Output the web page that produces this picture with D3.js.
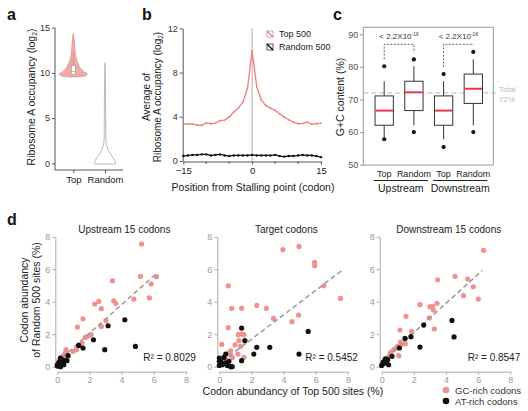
<!DOCTYPE html>
<html><head><meta charset="utf-8">
<script src="https://cdn.jsdelivr.net/npm/d3@7"></script>
<style>body{margin:0;background:#fff;} text{font-family:"Liberation Sans",Arial,sans-serif;}</style>
</head><body><svg id="chart" width="528" height="411"></svg>
<script>
// ---------- Panel a data ----------
const violinCats = ["Top", "Random"];
const violinTicks = [0, 5, 10, 15];
// [log2 occupancy, relative density]
const violinTop = [[9.55,0.05],[9.66,0.83],[9.88,1.0],[10.13,0.76],[10.5,0.52],[11.06,0.33],[11.6,0.21],[12.17,0.14],[12.9,0.1],[13.64,0.07],[14.38,0]];
const violinRandom = [[-0.08,0.74],[0,0.76],[0.29,0.71],[0.73,0.52],[1.28,0.29],[1.84,0.14],[2.58,0.07],[4.8,0.05],[8.47,0.035],[11.13,0]];
const topBox = [9.6, 9.85, 10.15, 10.8, 12.3]; // low whisker, q1, median, q3, high whisker

// ---------- Panel b data ----------
const positions = [-15,-14,-13,-12,-11,-10,-9,-8,-7,-6,-5,-4,-3,-2,-1,0,1,2,3,4,5,6,7,8,9,10,11,12,13,14,15];
const top500 = [3.37,3.34,3.34,3.25,3.22,3.43,3.37,3.43,3.64,3.7,3.97,4.42,4.78,5.32,6.6,9.97,6.7,5.53,5.0,4.78,4.57,4.27,3.97,3.73,3.52,3.37,3.4,3.52,3.34,3.37,3.43];
const random500 = [0.45,0.5,0.55,0.55,0.6,0.6,0.5,0.55,0.6,0.5,0.45,0.5,0.5,0.5,0.5,0.55,0.5,0.5,0.5,0.5,0.55,0.45,0.4,0.45,0.45,0.5,0.55,0.5,0.5,0.45,0.35];
const bYTicks = [0, 4, 8, 12];
const bXLabels = [-15, 0, 15];
const bXMinor = [-10, -5, 5, 10];
const bSeries = ["Top 500", "Random 500"];

// ---------- Panel c data ----------
const boxKeys = ["UT", "UR", "DT", "DR"];
const boxLabels = ["Top", "Random", "Top", "Random"];
const regions = ["Upstream", "Downstream"];
const whiskerLow = [57.8, 62.1, 57.8, 62.1];
const boxQ1 = [62.1, 66.6, 62.1, 68.8];
const boxMedian = [66.6, 72.2, 66.6, 73.3];
const boxQ3 = [71.1, 75.6, 71.1, 77.8];
const whiskerHigh = [75.6, 80.2, 75.6, 82.3];
const outliers = [[80.2, 57.8], [82.3, 60.0], [77.8, 55.4], [84.6, 60.0]];
const totalGC = 72;
const cYTicks = [50, 60, 70, 80, 90];
const pLabel = "< 2.2X10";

// ---------- Panel d data ----------
const upGC = [[5.24,7.55],[5.17,5.56],[6.17,5.54],[5.84,5.09],[3.43,5.29],[3.51,4.06],[3.64,3.9],[4.76,4.16],[5.73,4.23],[2.58,4.02],[2.33,3.86],[2.74,3.57],[1.6,2.95],[1.25,2.44],[3.03,2.83],[2.74,2.48],[2.1,1.97],[1.91,1.87],[1.75,1.8],[1.54,1.46],[1.37,1.35],[1.19,1.05],[0.98,0.94],[0.54,1.05],[0.5,0.84],[0.4,0.68],[0.25,0.57],[0.19,0.43],[0.09,0.33],[0.6,0.78]];
const upAT = [[4.2,2.89],[3.16,2.52],[4.86,1.25],[2.95,1.05],[2.25,1.66],[1.33,1.31],[1.6,1.15],[0.67,0.68],[0.46,0.37],[0.29,0.43],[0.19,0.53],[0.09,0.23],[0.0,0.12],[0.25,0.23],[0.4,0.12],[0.13,0.08],[0.6,0.37],[0.0,0.04],[0.15,0.3],[0.3,0.15],[0.2,0.0],[0.35,0.35]];
const tgGC = [[3.96,7.2],[4.96,7.4],[5.93,6.42],[5.93,6.22],[6.5,4.98],[7.54,4.2],[0.56,4.98],[0.77,3.59],[1.39,3.59],[2.33,3.77],[2.93,3.59],[3.37,2.97],[4.93,3.18],[4.52,2.77],[0.56,2.4],[0.15,1.37],[1.18,1.97],[1.37,2.01],[1.53,1.97],[1.22,1.6],[0.98,1.35],[0.7,0.98],[1.16,0.78],[1.53,0.57],[0.81,0.57],[0.6,0.84],[0.4,0.43],[1.32,1.25],[0.19,0.33],[0.29,0.37]];
const tgAT = [[1.39,2.38],[1.59,1.6],[2.33,1.19],[3.14,1.19],[5.53,2.17],[4.96,0.78],[2.15,0.78],[1.39,0.37],[0.4,0.78],[0.29,0.57],[0,0.53],[0,0.33],[0.19,0.12],[0.5,0.08],[0.7,0],[0,0.08],[0.6,0.33],[0.4,0.23],[0.1,0.3],[0.8,0.0]];
const dnGC = [[6.34,7.16],[3.48,5.35],[4.56,5.56],[5.35,5.39],[5.7,4.92],[5.09,4.37],[6.01,4.16],[2.38,3.82],[3.44,3.9],[3.0,3.69],[3.17,3.71],[3.21,3.49],[2.96,3.0],[1.51,3.1],[3.27,2.32],[1.14,2.26],[1.86,2.17],[1.16,1.52],[1.3,1.39],[1.47,1.42],[0.99,1.25],[0.75,1.05],[0.52,0.78],[1.06,0.68],[0.37,0.53],[0.23,0.37],[0.58,0.9],[0.89,1.15]];
const dnAT = [[4.37,2.85],[2.61,2.56],[1.82,1.85],[1.45,1.74],[4.5,1.83],[2.38,1.21],[1.1,1.15],[0.64,0.64],[0.37,0.43],[0.23,0.49],[0.16,0.33],[0.06,0.16],[0,0.08],[0.27,0.23],[0.1,0.29],[0.43,0.12]];
const upFit = [[0.3,0.56],[6.2,5.76]];
const tgFit = [[0.6,0.64],[7.6,5.9]];
const dnFit = [[0.3,0.57],[6.25,5.92]];
const dTitles = ["Upstream 15 codons", "Target codons", "Downstream 15 codons"];
const dR2 = ["0.8029", "0.5452", "0.8547"];
const dTicks = [0, 2, 4, 6, 8];
const dLegend = ["GC-rich codons", "AT-rich codons"];

const PINK = "#f29090", BLACK = "#111";
const svg = d3.select("#chart");

function panelLabel(t, x, y) {
  svg.append("text").attr("x", x).attr("y", y).attr("font-size", 16).attr("font-weight", "bold").attr("fill", "#111").text(t);
}
function styleAxis(g, col, tcol, fs) {
  g.selectAll("line").attr("stroke", col);
  g.selectAll("path").attr("stroke", col);
  g.selectAll("text").attr("fill", tcol).attr("font-size", fs).attr("font-family", '"Liberation Sans",Arial,sans-serif');
}
function log2Title(x, y, fs, pre) {
  const t = svg.append("text").attr("transform", `translate(${x},${y}) rotate(-90)`).attr("text-anchor", "middle").attr("font-size", fs).attr("fill", "#222");
  t.append("tspan").text(pre + " (log");
  t.append("tspan").attr("font-size", fs * 0.65).attr("dy", 2).text("2");
  t.append("tspan").attr("dy", -2).text(")");
}

// ================= Panel a =================
panelLabel("a", 7, 20);
const yA = d3.scaleLinear().domain([0, 15]).range([163.3, 27.7]);
const xA = d3.scalePoint().domain(violinCats).range([73.3, 105]);
const wA = d3.scaleLinear().domain([0, 1]).range([0, 14]);
const gA = svg.append("g");
const axA = gA.append("g").attr("transform", "translate(55,0)").call(d3.axisLeft(yA).tickValues(violinTicks).tickSize(3).tickPadding(2));
axA.select(".domain").remove();
styleAxis(axA, "#555", "#333", 9);
gA.append("line").attr("x1", 55).attr("x2", 55).attr("y1", yA(15)).attr("y2", 170).attr("stroke", "#555");
gA.append("line").attr("x1", 55).attr("x2", 123).attr("y1", 170).attr("y2", 170).attr("stroke", "#555");
const axAx = gA.append("g").attr("transform", "translate(0,170)").call(d3.axisBottom(xA).tickSize(3).tickPadding(3));
axAx.select(".domain").remove();
styleAxis(axAx, "#555", "#222", 9.5);
function violinArea(cx) {
  return d3.area().curve(d3.curveCatmullRom).y(d => yA(d[0])).x0(d => cx - wA(d[1])).x1(d => cx + wA(d[1]));
}
gA.append("path").attr("d", violinArea(xA("Top"))(violinTop)).attr("fill", "#f5a8a6").attr("stroke", "#c99090").attr("stroke-width", 0.7);
gA.append("path").attr("d", violinArea(xA("Random"))(violinRandom)).attr("fill", "#fff").attr("stroke", "#999").attr("stroke-width", 0.7);
{
  const cx = xA("Top");
  gA.append("line").attr("x1", cx).attr("x2", cx).attr("y1", yA(topBox[3])).attr("y2", yA(topBox[4])).attr("stroke", "#999").attr("stroke-width", 0.6);
  gA.append("rect").attr("x", cx - 2).attr("width", 4).attr("y", yA(topBox[3])).attr("height", yA(topBox[1]) - yA(topBox[3])).attr("fill", "#fff").attr("stroke", "#999").attr("stroke-width", 0.6);
  gA.append("line").attr("x1", cx - 2).attr("x2", cx + 2).attr("y1", yA(topBox[2])).attr("y2", yA(topBox[2])).attr("stroke", "#999").attr("stroke-width", 0.6);
}
log2Title(35, 97, 10.5, "Ribosome A occupancy");

// ================= Panel b =================
panelLabel("b", 142, 20);
const xB = d3.scaleLinear().domain([-15, 15]).range([183.3, 321]);
const yB = d3.scaleLinear().domain([0, 12]).range([161, 28.3]);
const gB = svg.append("g");
const axBy = gB.append("g").attr("transform", "translate(182.7,0)").call(d3.axisLeft(yB).tickValues(bYTicks).tickSize(3).tickPadding(2).tickSizeOuter(0));
styleAxis(axBy, "#555", "#333", 9);
const axBx = gB.append("g").attr("transform", "translate(0,161.5)").call(d3.axisBottom(xB).tickValues(bXLabels).tickSize(3).tickPadding(3).tickSizeOuter(0));
styleAxis(axBx, "#555", "#222", 9.5);
gB.selectAll(".minor").data(bXMinor).enter().append("line").attr("x1", d => xB(d)).attr("x2", d => xB(d)).attr("y1", 161.5).attr("y2", 164).attr("stroke", "#555");
gB.append("line").attr("x1", xB(0)).attr("x2", xB(0)).attr("y1", yB(12)).attr("y2", yB(0)).attr("stroke", "#999").attr("stroke-width", 0.8);
const lineTop = d3.line().x((d, i) => xB(positions[i])).y(d => yB(d));
gB.append("path").attr("d", lineTop(top500)).attr("fill", "none").attr("stroke", "#f08484").attr("stroke-width", 1.4);
gB.selectAll(".pt").data(top500).enter().append("circle").attr("cx", (d, i) => xB(positions[i])).attr("cy", d => yB(d)).attr("r", 0.9).attr("fill", "#f08484");
gB.append("path").attr("d", lineTop(random500)).attr("fill", "none").attr("stroke", "#111").attr("stroke-width", 1.3);
gB.selectAll(".pr").data(random500).enter().append("circle").attr("cx", (d, i) => xB(positions[i])).attr("cy", d => yB(d)).attr("r", 1.2).attr("fill", "#111");
// legend
const legCols = ["#e87878", "#111"];
const legBox = ["#d88a8a", "#333"];
bSeries.forEach((s, i) => {
  const y = 31 + i * 13;
  gB.append("rect").attr("x", 267).attr("y", y).attr("width", 6).attr("height", 6).attr("fill", "#fff").attr("stroke", legBox[i]).attr("stroke-width", 0.8);
  gB.append("line").attr("x1", 267).attr("y1", y).attr("x2", 273).attr("y2", y + 6).attr("stroke", legCols[i]).attr("stroke-width", i ? 1.4 : 1.1);
  gB.append("text").attr("x", 279).attr("y", y + 6).attr("font-size", 9).attr("fill", "#222").text(s);
});
svg.append("text").attr("transform", "translate(150,97) rotate(-90)").attr("text-anchor", "middle").attr("font-size", 10).attr("fill", "#222").text("Average of");
log2Title(161, 97, 10, "Ribosome A occupancy");
svg.append("text").attr("x", 253).attr("y", 191).attr("text-anchor", "middle").attr("font-size", 10.5).attr("fill", "#222").text("Position from Stalling point (codon)");

// ================= Panel c =================
panelLabel("c", 333, 20);
const yC = d3.scaleLinear().domain([50, 90]).range([164.7, 34.3]);
const xC = d3.scalePoint().domain(boxKeys).range([384.2, 473.3]);
const BW = 18.3;
const gC = svg.append("g");
gC.append("rect").attr("x", 363.3).attr("y", yC(92.15)).attr("width", 130).attr("height", yC(49.9) - yC(92.15)).attr("fill", "none").attr("stroke", "#999").attr("stroke-width", 1);
const axC = gC.append("g").attr("transform", "translate(363.3,0)").call(d3.axisLeft(yC).tickValues(cYTicks).tickSize(3).tickPadding(2));
axC.select(".domain").remove();
styleAxis(axC, "#888", "#555", 9);
gC.append("line").attr("x1", 363.3).attr("x2", 496).attr("y1", yC(totalGC)).attr("y2", yC(totalGC)).attr("stroke", "#b5b5b5").attr("stroke-width", 1).attr("stroke-dasharray", "5,3");
gC.append("text").attr("x", 499).attr("y", yC(totalGC) - 0.5).attr("font-size", 8).attr("fill", "#bbb").text("Total");
gC.append("text").attr("x", 499).attr("y", yC(totalGC) + 9).attr("font-size", 8).attr("fill", "#bbb").text(totalGC + "%");
boxKeys.forEach((k, i) => {
  const cx = xC(k);
  gC.append("line").attr("x1", cx).attr("x2", cx).attr("y1", yC(whiskerLow[i])).attr("y2", yC(boxQ1[i])).attr("stroke", "#333");
  gC.append("line").attr("x1", cx).attr("x2", cx).attr("y1", yC(boxQ3[i])).attr("y2", yC(whiskerHigh[i])).attr("stroke", "#333");
  gC.append("rect").attr("x", cx - BW / 2).attr("width", BW).attr("y", yC(boxQ3[i])).attr("height", yC(boxQ1[i]) - yC(boxQ3[i])).attr("fill", "#fff").attr("stroke", "#333").attr("stroke-width", 1);
  gC.append("line").attr("x1", cx - BW / 2 + 0.5).attr("x2", cx + BW / 2 - 0.5).attr("y1", yC(boxMedian[i])).attr("y2", yC(boxMedian[i])).attr("stroke", "#e03a52").attr("stroke-width", 2);
  outliers[i].forEach(v => gC.append("circle").attr("cx", cx).attr("cy", yC(v)).attr("r", 2.1).attr("fill", "#111"));
  gC.append("text").attr("x", cx).attr("y", 177).attr("text-anchor", "middle").attr("font-size", 9).attr("fill", "#222").text(boxLabels[i]);
});
// significance brackets
[[0, 1], [2, 3]].forEach(([a, b]) => {
  const xa = xC(boxKeys[a]), xb = xC(boxKeys[b]);
  const topY = 44.3;
  const ya = yC(d3.max(outliers[a])) - 7, yb = yC(d3.max(outliers[b])) - 7;
  gC.append("path").attr("d", `M${xa},${ya}V${topY}H${xb}V${yb}`).attr("fill", "none").attr("stroke", "#555").attr("stroke-width", 0.9).attr("stroke-dasharray", "2,1.5");
  const t = gC.append("text").attr("x", (xa + xb) / 2).attr("y", 38.5).attr("text-anchor", "middle").attr("font-size", 8).attr("fill", "#333");
  t.append("tspan").text(pLabel);
  t.append("tspan").attr("font-size", 5).attr("dy", -3).text("-16");
});
// group lines
regions.forEach((r, j) => {
  const x1 = xC(boxKeys[2 * j]) - 10.5, x2 = xC(boxKeys[2 * j + 1]) + 14;
  gC.append("line").attr("x1", x1).attr("x2", x2).attr("y1", 180.5).attr("y2", 180.5).attr("stroke", "#222").attr("stroke-width", 1);
  gC.append("text").attr("x", (x1 + x2) / 2).attr("y", 192).attr("text-anchor", "middle").attr("font-size", 10.5).attr("fill", "#222").text(r);
});
svg.append("text").attr("transform", "translate(343.5,97) rotate(-90)").attr("text-anchor", "middle").attr("font-size", 10.5).attr("fill", "#222").text("G+C content (%)");

// ================= Panel d =================
panelLabel("d", 7, 225);
const dPanels = [
  { x0: 57.3, gc: upGC, at: upAT, fit: upFit },
  { x0: 219.3, gc: tgGC, at: tgAT, fit: tgFit },
  { x0: 381.7, gc: dnGC, at: dnAT, fit: dnFit }
];
const yD = d3.scaleLinear().domain([0, 8]).range([366.7, 236.7]);
dPanels.forEach((p, i) => {
  const xD = d3.scaleLinear().domain([0, 8]).range([p.x0, p.x0 + 128.6]);
  const g = svg.append("g");
  const ay = g.append("g").attr("transform", `translate(${p.x0 - 2},0)`).call(d3.axisLeft(yD).tickValues(dTicks).tickSize(3).tickPadding(2).tickSizeOuter(0));
  styleAxis(ay, "#aaa", "#999", 9);
  const ax = g.append("g").attr("transform", `translate(0,${yD(0) + 5})`).call(d3.axisBottom(xD).tickValues(dTicks).tickSize(3).tickPadding(2).tickSizeOuter(0));
  styleAxis(ax, "#aaa", "#999", 9);
  g.selectAll(".gc").data(p.gc).enter().append("circle").attr("cx", d => xD(d[0])).attr("cy", d => yD(d[1])).attr("r", 2.6).attr("fill", PINK);
  g.append("line").attr("x1", xD(p.fit[0][0])).attr("y1", yD(p.fit[0][1])).attr("x2", xD(p.fit[1][0])).attr("y2", yD(p.fit[1][1]))
    .attr("stroke", "#9a9a9a").attr("stroke-width", 1.5).attr("stroke-dasharray", "5,3");
  g.selectAll(".at").data(p.at).enter().append("circle").attr("cx", d => xD(d[0])).attr("cy", d => yD(d[1])).attr("r", 2.6).attr("fill", BLACK);
  g.append("text").attr("x", p.x0 + 67).attr("y", 233).attr("text-anchor", "middle").attr("font-size", 10).attr("fill", "#222").text(dTitles[i]);
  g.append("text").attr("x", p.x0 + 86).attr("y", 361).attr("font-size", 10).attr("fill", "#222").text("R² = " + dR2[i]);
});
svg.append("text").attr("transform", "translate(28,300) rotate(-90)").attr("text-anchor", "middle").attr("font-size", 10.5).attr("fill", "#222").text("Codon abundancy");
svg.append("text").attr("transform", "translate(40,300) rotate(-90)").attr("text-anchor", "middle").attr("font-size", 10.5).attr("fill", "#222").text("of Random 500 sites (%)");
svg.append("text").attr("x", 293).attr("y", 395).attr("text-anchor", "middle").attr("font-size", 10.5).attr("fill", "#222").text("Codon abundancy of Top 500 sites (%)");
dLegend.forEach((s, i) => {
  svg.append("circle").attr("cx", 446).attr("cy", 390 + i * 11).attr("r", 3.3).attr("fill", i ? BLACK : PINK);
  svg.append("text").attr("x", 455).attr("y", 393.5 + i * 11).attr("font-size", 9.5).attr("fill", "#333").text(s);
});
</script></body></html>
